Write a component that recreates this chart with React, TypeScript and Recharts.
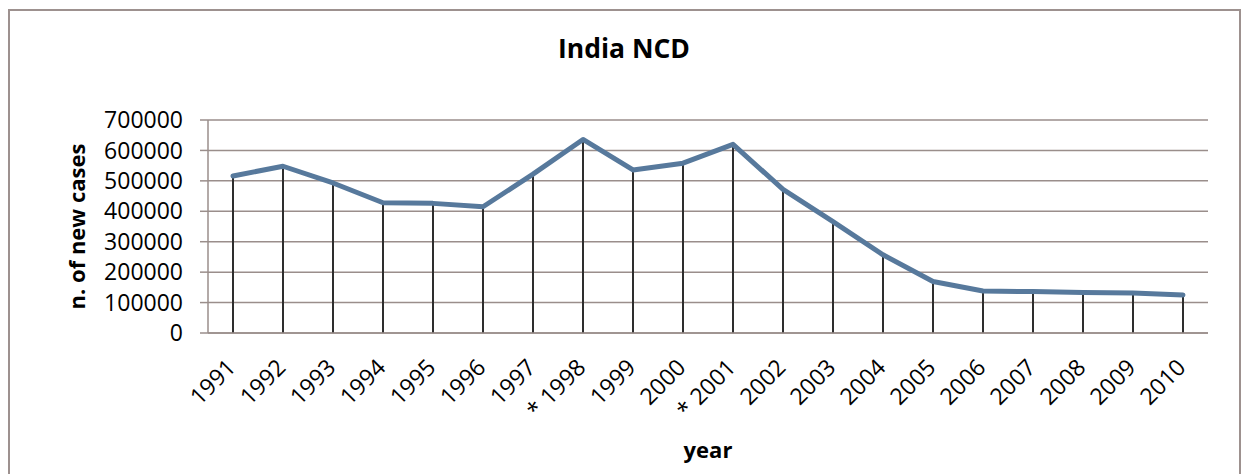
import {
  ComposedChart,
  Bar,
  Line,
  XAxis,
  YAxis,
  CartesianGrid,
  Label,
} from "recharts";

const years = [
  "1991", "1992", "1993", "1994", "1995", "1996", "1997", "* 1998", "1999", "2000",
  "* 2001", "2002", "2003", "2004", "2005", "2006", "2007", "2008", "2009", "2010",
];
const newCases = [
  516000, 548000, 493000, 428000, 426000, 415000, 522000, 636000, 536000, 558000,
  620000, 472000, 366000, 257000, 169000, 138000, 136000, 133000, 131500, 125000,
];
const yTicks = [0, 100000, 200000, 300000, 400000, 500000, 600000, 700000];

const data = years.map((year, i) => ({ year, cases: newCases[i] }));

const FONT = '"Open Sans", sans-serif';
const GRID = "#9a8e8b";

const YearTick = (props: any) => {
  const { x, y, payload } = props;
  const ax = x + 4;
  const ay = y + 36;
  return (
    <text
      x={ax}
      y={ay}
      transform={`rotate(-45, ${ax}, ${ay})`}
      textAnchor="end"
      fill="#000"
      fontSize={23}
      fontFamily={FONT}
    >
      {payload.value}
    </text>
  );
};

export default function App() {
  return (
    <div style={{ position: "absolute", left: 0, top: 0, width: 1242, height: 474, background: "#fff", overflow: "hidden", fontFamily: FONT }}>
      <div
        style={{
          position: "absolute",
          left: 8,
          top: 9,
          width: 1233,
          height: 480,
          border: "2px solid #9d918f",
          boxSizing: "border-box",
        }}
      />
      <div
        style={{
          position: "absolute",
          left: 8,
          width: 1232,
          top: 35,
          textAlign: "center",
          fontSize: 26.5,
          lineHeight: 1,
          fontWeight: "bold",
          color: "#000",
        }}
      >
        India NCD
      </div>
      <div style={{ position: "absolute", left: 0, top: 0 }}>
        <ComposedChart
          width={1242}
          height={474}
          data={data}
          margin={{ top: 120, right: 34, left: 50, bottom: 0 }}
        >
          <CartesianGrid vertical={false} stroke={GRID} strokeWidth={1.5} />
          <XAxis
            dataKey="year"
            height={141}
            tickLine={false}
            tickSize={0}
            tickMargin={0}
            axisLine={{ stroke: GRID, strokeWidth: 1.5 }}
            tick={<YearTick />}
            interval={0}
          >
            <Label
              value="year"
              position="insideBottom"
              offset={16}
              style={{ fontWeight: "bold", fontSize: 22, fill: "#000" }}
            />
          </XAxis>
          <YAxis
            width={158}
            domain={[0, 700000]}
            ticks={yTicks}
            interval={0}
            tickSize={8}
            tickMargin={17}
            tickLine={{ stroke: GRID, strokeWidth: 1.5 }}
            axisLine={{ stroke: GRID, strokeWidth: 1.5 }}
            tick={{ fontSize: 23, fill: "#000" }}
          >
            <Label
              value="n. of new cases"
              angle={-90}
              position="insideLeft"
              offset={27}
              style={{ textAnchor: "middle", fontWeight: "bold", fontSize: 22, fill: "#000" }}
            />
          </YAxis>
          <Bar dataKey="cases" barSize={2} fill="#2e2e2e" isAnimationActive={false} />
          <Line
            type="linear"
            dataKey="cases"
            stroke="#57799c"
            strokeWidth={5}
            strokeLinejoin="round"
            strokeLinecap="round"
            dot={false}
            activeDot={false}
            isAnimationActive={false}
          />
        </ComposedChart>
      </div>
    </div>
  );
}
